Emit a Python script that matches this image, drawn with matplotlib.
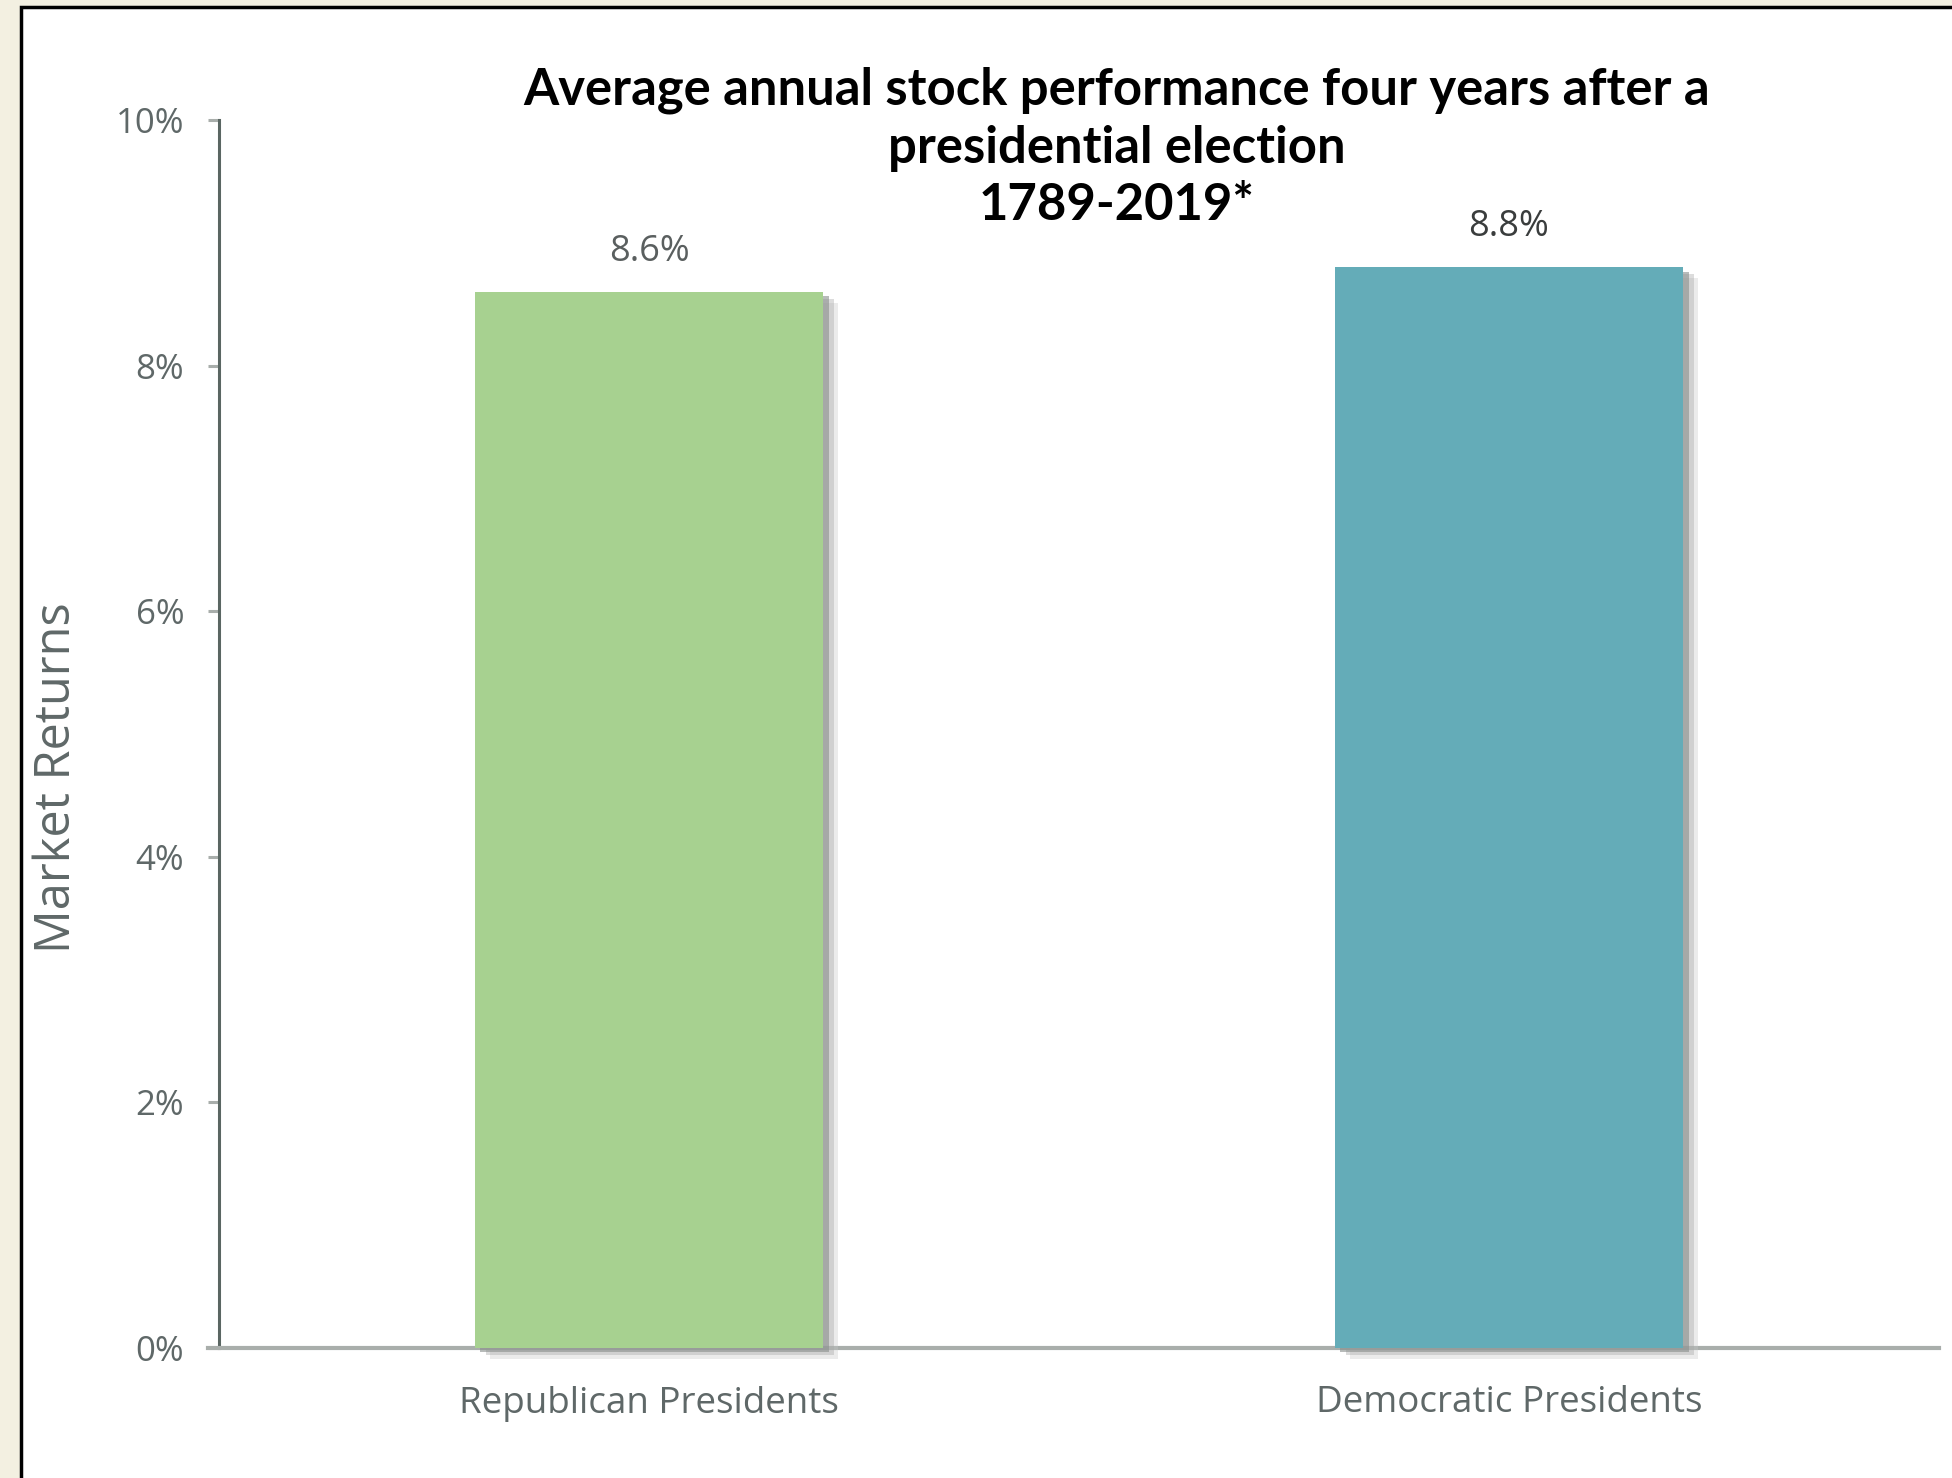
import matplotlib
matplotlib.use("Agg")
import matplotlib.pyplot as plt
import matplotlib.patheffects as pe
from matplotlib.patches import Rectangle

categories = ["Republican Presidents", "Democratic Presidents"]
values = [8.6, 8.8]
value_labels = ["8.6%", "8.8%"]
yticks = [0, 2, 4, 6, 8, 10]
ytick_labels = ["0%", "2%", "4%", "6%", "8%", "10%"]
bar_colors = ["#a7d190", "#64acb8"]
title_text = "Average annual stock performance four years after a\npresidential election\n1789-2019*"

W, H = 1952, 1478
fig = plt.figure(figsize=(W / 100, H / 100), dpi=100)
fig.patch.set_facecolor("#f3f0e1")

# white panel with black border
panel = Rectangle((21 / W, -0.05), 1.2, 1 - 7 / H + 0.05, transform=fig.transFigure,
                  facecolor="white", edgecolor="black", linewidth=2.5, zorder=-5)
fig.patches.append(panel)

ax = fig.add_axes([219 / W, 1 - 1348 / H, (1939 - 219) / W, (1348 - 120) / H])
ax.set_facecolor("none")
ax.set_zorder(2)

x = list(range(len(categories)))
shadow = [pe.SimplePatchShadow(offset=(11, -8), shadow_rgbFace="#c8c8c8", alpha=0.35),
          pe.SimplePatchShadow(offset=(8, -5), shadow_rgbFace="#a8a8a8", alpha=0.4),
          pe.SimplePatchShadow(offset=(4, -3), shadow_rgbFace="#8a8f8c", alpha=0.6),
          pe.Normal()]
bars = ax.bar(x, values, width=0.405, color=bar_colors, zorder=3, clip_on=False)
for b in bars:
    b.set_path_effects(shadow)

for xi, v, lab, c in zip(x, values, value_labels, ["#5a5f5f", "#3a3d3d"]):
    ax.annotate(lab, (xi, v), xytext=(0, 16), textcoords="offset points",
                ha="center", va="bottom", fontsize=26, color=c, family="Open Sans")

ax.set_xlim(-0.5, 1.5)
ax.set_ylim(0, 10)
ax.set_yticks(yticks)
ax.set_yticklabels(ytick_labels, family="Open Sans", fontsize=25, color="#5f6868")
ax.set_xticks(x)
ax.set_xticklabels(categories, family="Open Sans", fontsize=26.5, color="#5f6868")
ax.tick_params(axis="y", length=8, width=2.2, color="#a9aeab", pad=17)
ax.tick_params(axis="x", length=0, pad=27)

for s in ["top", "right"]:
    ax.spines[s].set_visible(False)
ax.spines["left"].set_color("#5a6662")
ax.spines["left"].set_linewidth(2.2)
ax.spines["bottom"].set_color("#a9aeab")
ax.spines["bottom"].set_linewidth(3)
ax.spines["bottom"].set_bounds(-0.5 - 11 / 860, 1.5)

fig.text(57 / W, 1 - 778 / H, "Market Returns", rotation=90, ha="center", va="center",
         fontsize=35, color="#5f6868", family="Open Sans")

fig.text(1117 / W, 1 - 148 / H, title_text, ha="center", va="center",
         fontsize=36.5, fontweight="bold", family="Lato", color="black", linespacing=1.27)

fig.savefig("out.png", dpi=100, facecolor=fig.get_facecolor())
